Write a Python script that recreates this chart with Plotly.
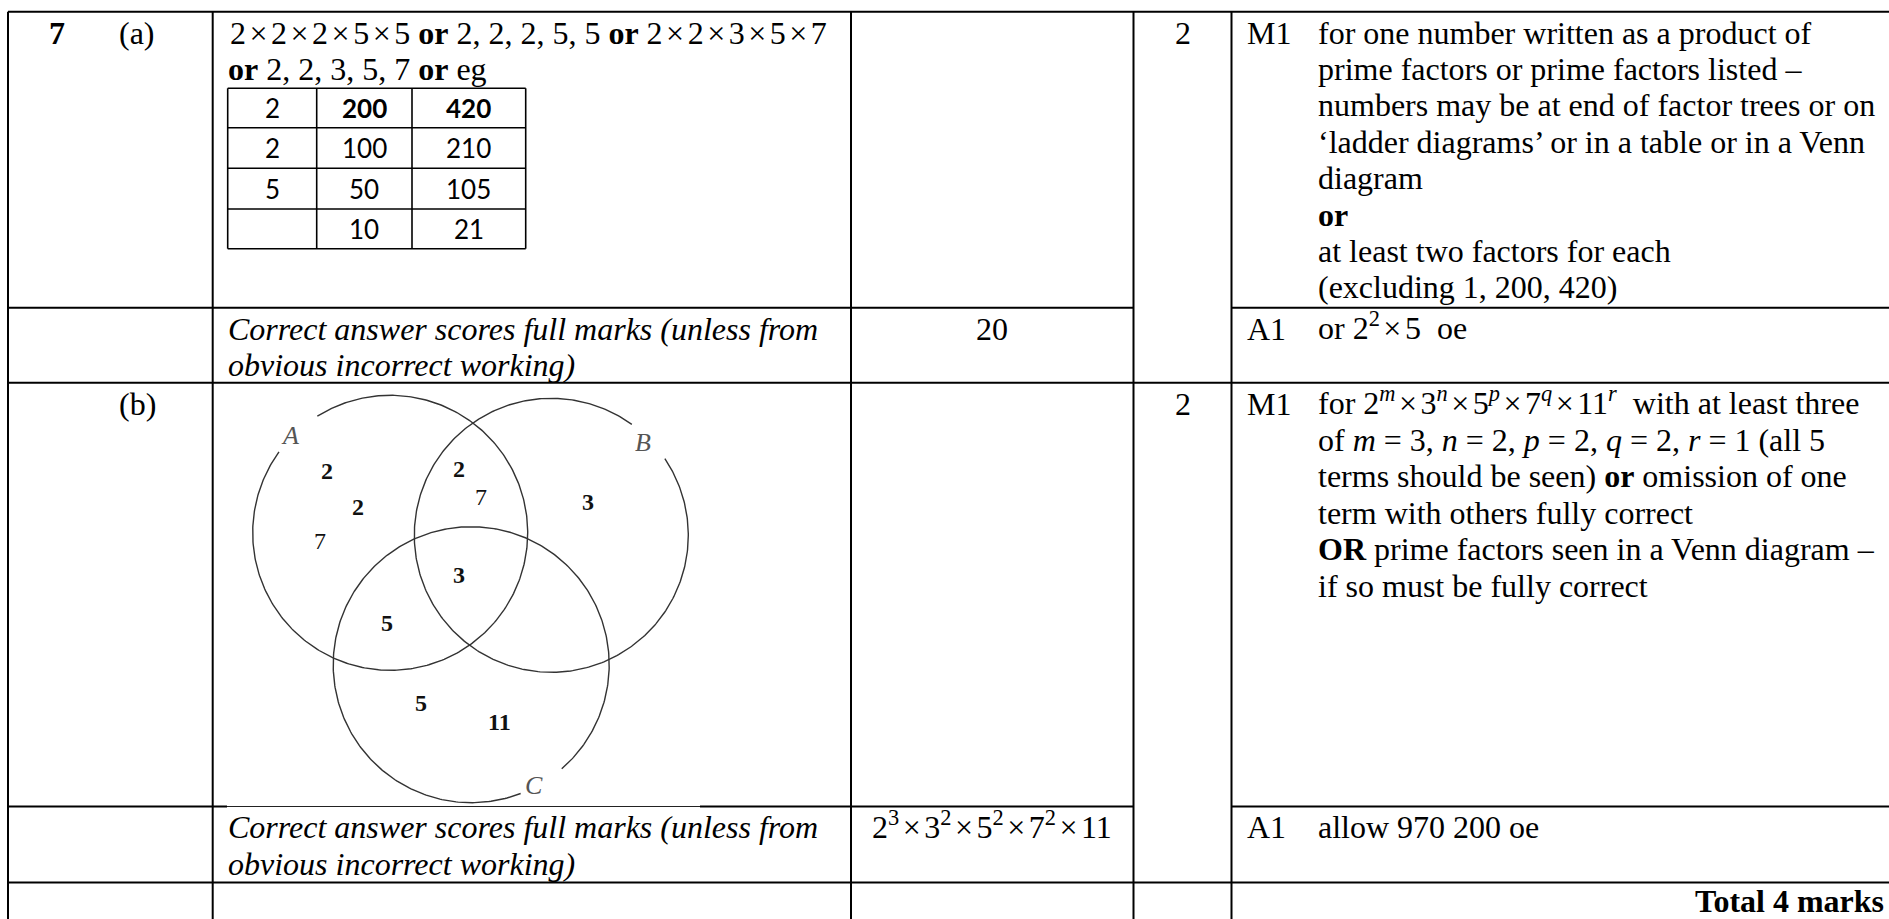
import numpy as np
import plotly.graph_objects as go

# ---------------- data (text content) ----------------
_SP = '<span style="font-size:14px">\u00a0</span>'
X = f"{_SP}×{_SP}"      # multiplication sign with math spacing
question_number = "7"
part_labels = ["(a)", "(b)"]
marks = ["2", "2"]
answer_a_lines = [
    f"2{X}2{X}2{X}5{X}5 <b>or</b> 2, 2, 2, 5, 5 <b>or</b> 2{X}2{X}3{X}5{X}7",
    "<b>or</b> 2, 2, 3, 5, 7 <b>or</b> eg",
]
ladder_rows = [
    ["2", "200", "420"],
    ["2", "100", "210"],
    ["5", "50", "105"],
    ["", "10", "21"],
]
ladder_bold_row = 0
m1a_lines = [
    "for one number written as a product of",
    "prime factors or prime factors listed –",
    "numbers may be at end of factor trees or on",
    "‘ladder diagrams’ or in a table or in a Venn",
    "diagram",
    "<b>or</b>",
    "at least two factors for each",
    "(excluding 1, 200, 420)",
]
correct_lines = [
    "<i>Correct answer scores full marks (unless from</i>",
    "<i>obvious incorrect working)</i>",
]
answer_a = "20"
a1a_text = f"or 2<sup>2</sup>{X}5\u00a0\u00a0oe"
venn_set_labels = ["A", "B", "C"]
venn_numbers = ["2", "2", "7", "2", "7", "3", "3", "5", "5", "11"]
venn_number_bold = [True, True, False, True, False, True, True, True, True, True]
m1b_lines = [
    f"for 2<sup><i>m</i></sup>{X}3<sup><i>n</i></sup>{X}5<sup><i>p</i></sup>{X}7<sup><i>q</i></sup>{X}11<sup><i>r</i></sup>\u00a0\u00a0with at least three",
    "of <i>m</i> = 3, <i>n</i> = 2, <i>p</i> = 2, <i>q</i> = 2, <i>r</i> = 1 (all 5",
    "terms should be seen) <b>or</b> omission of one",
    "term with others fully correct",
    "<b>OR</b> prime factors seen in a Venn diagram –",
    "if so must be fully correct",
]
answer_b = f"2<sup>3</sup>{X}3<sup>2</sup>{X}5<sup>2</sup>{X}7<sup>2</sup>{X}11"
mark_codes = ["M1", "A1", "M1", "A1"]
a1b_text = "allow 970 200 oe"
total_text = "<b>Total 4 marks</b>"

# ---------------- layout geometry (pixels) ----------------
W, H = 1889, 919
S = 32
SERIF = "Liberation Serif"
SANS = "Lato"
LH = 36.4            # line spacing
BASE_OFF = 31.6      # first baseline below row top
col_x = [8, 212.7, 851, 1133.5, 1231.5]
row_y = [11.7, 307.7, 382.7, 806.5, 882.5]
code_x = 1247
text_x = 1318
ans_x = 228

ladder_x = [227.7, 316.7, 412, 525.7]
ladder_y = [88.3, 127.7, 168.3, 209, 248.7]

circle_centers = [(390.2, 532.8), (551.3, 535.3), (471.2, 664.7)]
circle_r = [137.5, 137.0, 138.0]
circle_gaps = [(216, 238), (-54, -34), (49, 69)]   # degrees (screen, y down)
label_pos = [(290, 435), (643, 442), (534, 785)]
number_pos = [(326.7, 471), (357.7, 506.7), (320, 540.7), (458.7, 469.3),
              (480.7, 497.3), (588.3, 502.3), (459.3, 575), (387.3, 623.3),
              (420.7, 702.7), (499.3, 721.7)]
image_edge = (227, 700)

fig = go.Figure()
shapes = []
ann = []


def hline(y, x0, x1, w=2, color="black"):
    shapes.append(dict(type="line", xref="x", yref="y", x0=x0, x1=x1, y0=y, y1=y,
                       line=dict(color=color, width=w)))


def vline(x, y0, y1, w=2, color="black"):
    shapes.append(dict(type="line", xref="x", yref="y", x0=x, x1=x, y0=y0, y1=y1,
                       line=dict(color=color, width=w)))


def txt(x, baseline, text, size=S, anchor="left", family=SERIF, color="black"):
    # anchor on the vertical middle of the font box (baseline - 0.3375 em)
    ann.append(dict(x=x, y=baseline - 0.3375 * size, xref="x", yref="y", text=text,
                    showarrow=False, xanchor=anchor, yanchor="middle",
                    font=dict(family=family, size=size, color=color),
                    borderpad=0, borderwidth=0))


def txt_sup(x, baseline, text, size=S, anchor="left", family=SERIF, color="black"):
    # lines with superscripts: anchor on the bottom of the font box
    ann.append(dict(x=x, y=baseline + 0.216 * size, xref="x", yref="y", text=text,
                    showarrow=False, xanchor=anchor, yanchor="bottom",
                    font=dict(family=family, size=size, color=color),
                    borderpad=0, borderwidth=0))


def ctxt(x, y, text, size, family, color="black"):
    ann.append(dict(x=x, y=y, xref="x", yref="y", text=text, showarrow=False,
                    xanchor="center", yanchor="middle",
                    font=dict(family=family, size=size, color=color),
                    borderpad=0, borderwidth=0))


# main table grid
hline(row_y[0], col_x[0], W)
hline(row_y[1], col_x[0], col_x[3])
hline(row_y[1], col_x[4], W)
hline(row_y[2], col_x[0], W)
hline(row_y[3], col_x[0], image_edge[0])
hline(row_y[3], image_edge[0], image_edge[1], w=1, color="#222")
hline(row_y[3], image_edge[1], col_x[3])
hline(row_y[3], col_x[4], W)
hline(row_y[4], col_x[0], W)
for cx in col_x:
    vline(cx, row_y[0], H)

# ladder table
for ly in ladder_y:
    shapes.append(dict(type="line", x0=ladder_x[0], x1=ladder_x[-1], y0=ly, y1=ly,
                       line=dict(color="black", width=1.6)))
for lx in ladder_x:
    shapes.append(dict(type="line", x0=lx, x1=lx, y0=ladder_y[0], y1=ladder_y[-1],
                       line=dict(color="black", width=1.6)))
for i, row in enumerate(ladder_rows):
    for j, val in enumerate(row):
        if val == "":
            continue
        t = f"<b>{val}</b>" if (i == ladder_bold_row and j > 0) else val
        ctxt((ladder_x[j] + ladder_x[j + 1]) / 2, (ladder_y[i] + ladder_y[i + 1]) / 2,
             t, 26, SANS)

# row baselines
b = [ry + BASE_OFF for ry in row_y]

# row 1 (a)
txt(57, b[0], f"<b>{question_number}</b>", anchor="center")
txt(137, b[0], part_labels[0], anchor="center")
txt(230, b[0], answer_a_lines[0])
txt(ans_x, b[0] + LH, answer_a_lines[1])
txt((col_x[3] + col_x[4]) / 2, b[0], marks[0], anchor="center")
txt(code_x, b[0], mark_codes[0])
for k, line in enumerate(m1a_lines):
    txt(text_x, b[0] + k * LH, line)

# row 2
for k, line in enumerate(correct_lines):
    txt(ans_x, b[1] + k * LH, line)
txt((col_x[2] + col_x[3]) / 2, b[1], answer_a, anchor="center")
txt(code_x, b[1], mark_codes[1])
txt_sup(text_x, b[1], a1a_text)

# row 3 (b)
txt(137, b[2], part_labels[1], anchor="center")
txt((col_x[3] + col_x[4]) / 2, b[2], marks[1], anchor="center")
txt(code_x, b[2], mark_codes[2])
for k, line in enumerate(m1b_lines):
    if "<sup>" in line:
        txt_sup(text_x, b[2] + k * LH, line)
    else:
        txt(text_x, b[2] + k * LH, line)

# Venn circles
for (cx, cy), r, (g0, g1) in zip(circle_centers, circle_r, circle_gaps):
    t = np.radians(np.linspace(g1, g0 + 360, 400))
    fig.add_trace(go.Scatter(x=cx + r * np.cos(t), y=cy + r * np.sin(t), mode="lines",
                             line=dict(color="#333", width=1.4), hoverinfo="skip",
                             showlegend=False))
for (lx, ly), lab in zip(label_pos, venn_set_labels):
    ctxt(lx, ly, f"<i>{lab}</i>", 26, SERIF, "#555")
for (nx, ny), val, bold in zip(number_pos, venn_numbers, venn_number_bold):
    ctxt(nx, ny, f"<b>{val}</b>" if bold else val, 24, SERIF, "#111")

# row 4
for k, line in enumerate(correct_lines):
    txt(ans_x, b[3] + k * LH, line)
txt_sup((col_x[2] + col_x[3]) / 2, b[3], answer_b, anchor="center")
txt(code_x, b[3], mark_codes[3])
txt(text_x, b[3], a1b_text)

# row 5 (kept just inside the bottom edge)
txt(1884, b[4] - 2.5, total_text, anchor="right")

fig.update_layout(
    width=W, height=H, margin=dict(l=0, r=0, t=0, b=0),
    paper_bgcolor="white", plot_bgcolor="white",
    xaxis=dict(range=[0, W], visible=False, fixedrange=True),
    yaxis=dict(range=[H, 0], visible=False, fixedrange=True),
    shapes=shapes, annotations=ann, showlegend=False,
)

fig.write_html("out.html", config={"displayModeBar": False},
               post_script="document.body.style.margin='0';document.body.style.overflow='hidden';")
